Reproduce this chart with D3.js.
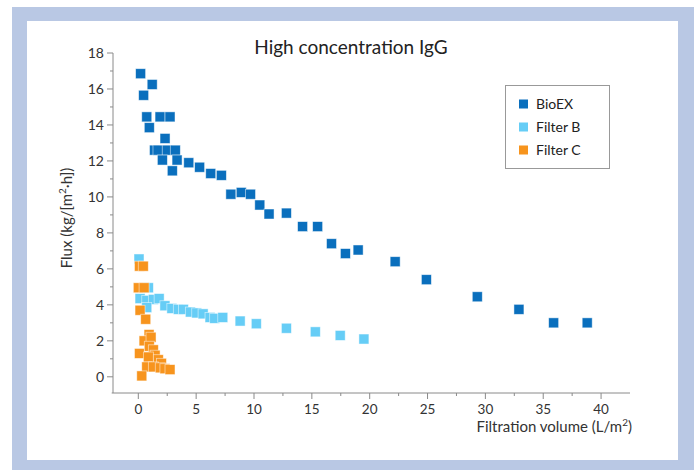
<!DOCTYPE html>
<html><head><meta charset="utf-8">
<script src="https://cdn.jsdelivr.net/npm/d3@7"></script>
<style>html,body{margin:0;padding:0;background:#fff;}svg{display:block;}</style>
</head><body>
<script>
const title = "High concentration IgG";
const seriesNames = ["BioEX", "Filter B", "Filter C"];
const seriesColors = ["#0a6fbd", "#66cdf6", "#f7941d"];
const xTicks = [0, 5, 10, 15, 20, 25, 30, 35, 40];
const yTicks = [0, 2, 4, 6, 8, 10, 12, 14, 16, 18];

const bioexX = [0.2, 0.46, 1.2, 0.73, 0.95, 1.88, 2.74, 2.31, 1.4, 1.7, 2.5, 3.2, 2.08, 3.35, 2.94, 4.36, 5.3, 6.26, 7.18, 8.0, 8.9, 9.7, 10.5, 11.3, 12.8, 14.2, 15.5, 16.7, 17.9, 19.0, 22.2, 24.9, 29.3, 32.9, 35.9, 38.8];
const bioexY = [16.85, 15.65, 16.25, 14.45, 13.85, 14.45, 14.45, 13.25, 12.6, 12.6, 12.6, 12.6, 12.05, 12.05, 11.45, 11.9, 11.65, 11.3, 11.2, 10.15, 10.25, 10.15, 9.55, 9.05, 9.1, 8.35, 8.35, 7.4, 6.85, 7.05, 6.4, 5.4, 4.45, 3.75, 3.0, 3.0];

const filterBX = [0.06, 0.87, 0.15, 0.73, 1.3, 1.8, 0.73, 2.3, 2.9, 3.46, 3.9, 4.5, 5.05, 5.6, 6.2, 6.6, 7.3, 8.8, 10.2, 12.8, 15.3, 17.45, 19.5];
const filterBY = [6.55, 4.95, 4.35, 4.25, 4.3, 4.35, 3.85, 3.95, 3.8, 3.75, 3.75, 3.6, 3.55, 3.5, 3.3, 3.25, 3.3, 3.1, 2.95, 2.7, 2.5, 2.3, 2.1];

const filterCX = [0.1, 0.43, 0.0, 0.5, 0.15, 0.64, 0.93, 0.5, 1.1, 0.1, 0.95, 1.3, 1.45, 0.87, 1.73, 2.0, 0.73, 1.3, 1.9, 2.3, 2.74, 0.3];
const filterCY = [6.15, 6.15, 4.95, 4.95, 3.7, 3.2, 2.35, 2.0, 2.2, 1.3, 1.7, 1.5, 1.2, 1.1, 0.95, 0.75, 0.55, 0.55, 0.5, 0.45, 0.4, 0.05];

const W = 694, H = 470;
const svg = d3.select("body").append("svg").attr("width", W).attr("height", H);
const font = "Lato, 'Open Sans', sans-serif";

// frame
svg.append("rect").attr("x", 12).attr("y", 7).attr("width", 682).attr("height", 463).attr("fill", "#b9c8e4");
svg.append("rect").attr("x", 27).attr("y", 21).attr("width", 651).attr("height", 439).attr("fill", "#ffffff");

const x = d3.scaleLinear().domain([-2.3, 42.5]).range([111.7, 630]);
const y = d3.scaleLinear().domain([-0.9, 18]).range([393, 53]);
const axisColor = "#8a8a8a";

// x axis
const gx = svg.append("g").attr("transform", `translate(0,${y(-0.9)})`);
gx.append("line").attr("x1", x(-2.3)).attr("x2", x(42.5)).attr("stroke", axisColor).attr("stroke-width", 1);
const xMinor = d3.range(2.5, 42.5, 5);
gx.selectAll(".xminor").data(xMinor).join("line").attr("x1", d => x(d)).attr("x2", d => x(d)).attr("y1", 0).attr("y2", 3).attr("stroke", axisColor);
gx.selectAll(".xmajor").data(xTicks).join("line").attr("x1", d => x(d)).attr("x2", d => x(d)).attr("y1", 0).attr("y2", 6).attr("stroke", axisColor);
gx.selectAll(".xlab").data(xTicks).join("text").attr("x", d => x(d)).attr("y", 20.5)
  .attr("text-anchor", "middle").attr("font-family", font).attr("font-size", 13.5).attr("fill", "#333").text(d => d);

// y axis
const gy = svg.append("g").attr("transform", `translate(${x(-2.3) + 1.3},0)`);
gy.append("line").attr("y1", y(18)).attr("y2", y(-0.9)).attr("stroke", axisColor);
const yMinor = d3.range(1, 18, 2);
gy.selectAll(".yminor").data(yMinor).join("line").attr("x1", -3).attr("x2", 0).attr("y1", d => y(d)).attr("y2", d => y(d)).attr("stroke", axisColor);
gy.selectAll(".ymajor").data(yTicks).join("line").attr("x1", -6).attr("x2", 0).attr("y1", d => y(d)).attr("y2", d => y(d)).attr("stroke", axisColor);
gy.selectAll(".ylab").data(yTicks).join("text").attr("x", -9).attr("y", d => y(d)).attr("dy", "0.35em")
  .attr("text-anchor", "end").attr("font-family", font).attr("font-size", 14).attr("fill", "#333").text(d => d);

// title
svg.append("text").attr("x", 351).attr("y", 54).attr("text-anchor", "middle").attr("font-family", font)
  .attr("font-size", 19).attr("fill", "#222").text(title);

// axis titles
const xt = svg.append("text").attr("x", 632).attr("y", 432).attr("text-anchor", "end").attr("font-family", font)
  .attr("font-size", 15).attr("fill", "#333");
xt.append("tspan").text("Filtration volume (L/m");
xt.append("tspan").attr("font-size", 10).attr("dy", -6).text("2");
xt.append("tspan").attr("dy", 6).text(")");

const yt = svg.append("text").attr("transform", "translate(72,218) rotate(-90)").attr("text-anchor", "middle")
  .attr("font-family", font).attr("font-size", 15).attr("fill", "#333");
yt.append("tspan").text("Flux (kg/[m");
yt.append("tspan").attr("font-size", 10).attr("dy", -6).text("2");
yt.append("tspan").attr("dy", 6).text("·h])");

// points
const S = 10;
const series = [
  {xs: bioexX, ys: bioexY},
  {xs: filterBX, ys: filterBY},
  {xs: filterCX, ys: filterCY}
];
series.forEach((s, i) => {
  const pts = s.xs.map((v, k) => [v, s.ys[k]]);
  svg.append("g").selectAll("rect").data(pts).join("rect")
    .attr("x", d => x(d[0]) - S / 2).attr("y", d => y(d[1]) - S / 2)
    .attr("width", S).attr("height", S)
    .attr("fill", seriesColors[i]).attr("stroke", "#ffffff").attr("stroke-opacity", 0.6).attr("stroke-width", 0.8);
});

// legend
const lg = svg.append("g");
lg.append("rect").attr("x", 505.5).attr("y", 85.5).attr("width", 104).attr("height", 83)
  .attr("fill", "#fff").attr("stroke", "#999").attr("stroke-width", 1);
seriesNames.forEach((n, i) => {
  const cy = 104 + i * 23;
  lg.append("rect").attr("x", 519).attr("y", cy - 4.5).attr("width", 9).attr("height", 9).attr("fill", seriesColors[i]);
  lg.append("text").attr("x", 536).attr("y", cy).attr("dy", "0.35em").attr("font-family", font)
    .attr("font-size", 14).attr("fill", "#222").text(n);
});
</script>
</body></html>
